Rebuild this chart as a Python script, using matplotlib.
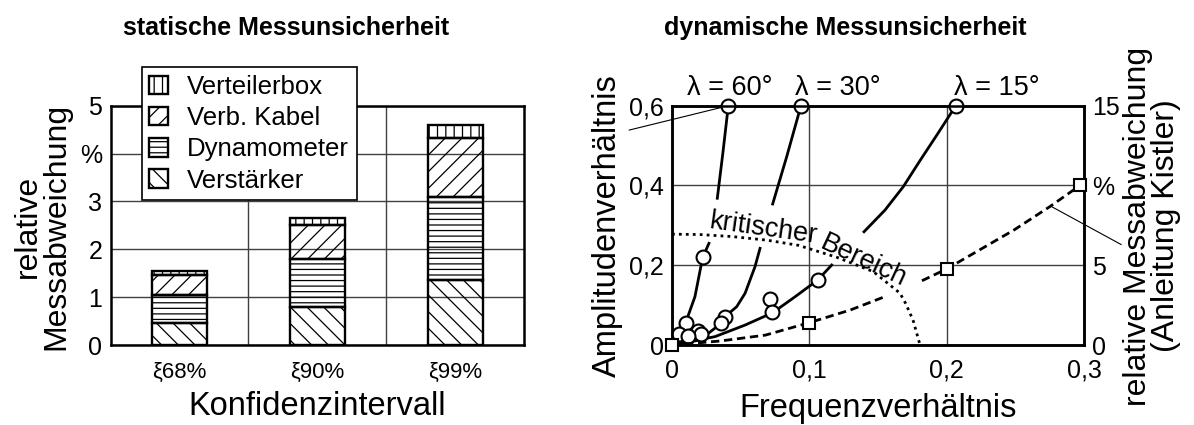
import numpy as np
import matplotlib.pyplot as plt

plt.rcParams['font.family'] = ['Liberation Sans', 'DejaVu Sans']
plt.rcParams['hatch.linewidth'] = 0.9

# statische Messunsicherheit, Anteile je Konfidenzintervall in %
intervalle = ['ξ68%', 'ξ90%', 'ξ99%']
verstaerker = [0.45, 0.79, 1.36]
dynamometer = [0.59, 1.01, 1.74]
kabel = [0.42, 0.71, 1.23]
verteilerbox = [0.09, 0.15, 0.27]

# dynamische Messunsicherheit: Kurven (oberer / unterer Ast) je Winkel
lam60_oben_f = [0.041, 0.037, 0.033]
lam60_oben_a = [0.6, 0.48, 0.368]
lam60_unten_f = [0.0269, 0.0223, 0.0167, 0.00995, 0.005, 0.0]
lam60_unten_a = [0.255, 0.219, 0.121, 0.056, 0.025, 0.0]
lam30_oben_f = [0.0939, 0.0835, 0.0733]
lam30_oben_a = [0.6, 0.472, 0.3536]
lam30_unten_f = [0.0641, 0.0604, 0.0532, 0.0471, 0.0391, 0.0357, 0.0204, 0.0]
lam30_unten_a = [0.2424, 0.196, 0.1296, 0.096, 0.0727, 0.0544, 0.0125, 0.0]
lam15_oben_f = [0.2066, 0.1935, 0.1805, 0.1684, 0.155, 0.1398]
lam15_oben_a = [0.6, 0.53, 0.462, 0.397, 0.338, 0.284]
lam15_unten_f = [0.1163, 0.1061, 0.0896, 0.0733, 0.0532, 0.0313, 0.0]
lam15_unten_a = [0.2006, 0.163, 0.121, 0.081, 0.050, 0.021, 0.0]

# Messpunkte
lam60_f = [0.041, 0.0223, 0.00995, 0.0051]
lam60_a = [0.6, 0.22, 0.056, 0.028]
lam30_f = [0.0939, 0.0386, 0.0355, 0.0192, 0.0211]
lam30_a = [0.6, 0.071, 0.056, 0.035, 0.028]
lam15_f = [0.2066, 0.1061, 0.0714, 0.0731, 0.0114]
lam15_a = [0.6, 0.163, 0.115, 0.082, 0.023]

# Anleitung Kistler, relative Messabweichung in %
kistler_f = [0.0, 0.1, 0.2, 0.297]
kistler_p = [0.0, 1.4, 4.77, 10.0]
kistler1_f = [0.0, 0.035, 0.068, 0.1, 0.13, 0.154]
kistler1_p = [0.0, 0.25, 0.62, 1.4, 2.2, 3.0]
kistler2_f = [0.182, 0.2, 0.249, 0.275, 0.297]
kistler2_p = [4.03, 4.77, 7.21, 8.67, 10.0]

# Grenze kritischer Bereich
kritisch_f = [0.0, 0.0204, 0.0435, 0.069, 0.092, 0.12, 0.1466, 0.166, 0.17, 0.1755, 0.1806]
kritisch_a = [0.278, 0.277, 0.272, 0.263, 0.25, 0.22, 0.184, 0.13, 0.105, 0.0625, 0.0]

fig = plt.figure(figsize=(11.94, 4.25), dpi=100)
ax1 = fig.add_axes([0.0927, 0.1882, 0.3461, 0.563])
ax2 = fig.add_axes([0.5628, 0.1882, 0.3451, 0.563])

fig.text(0.2395, 0.934, 'statische Messunsicherheit', ha='center', va='center',
         fontsize=18, fontweight='bold')
fig.text(0.7077, 0.934, 'dynamische Messunsicherheit', ha='center', va='center',
         fontsize=18, fontweight='bold')

# --- gestapelte Balken ---
x = np.arange(len(intervalle))
bottom = np.zeros(len(intervalle))
for vals, hatch, label in [(verstaerker, '\\\\', 'Verstärker'),
                           (dynamometer, '---', 'Dynamometer'),
                           (kabel, '//', 'Verb. Kabel'),
                           (verteilerbox, '||', 'Verteilerbox')]:
    ax1.bar(x, vals, 0.4, bottom=bottom, facecolor='none', edgecolor='black',
            linewidth=1.7, hatch=hatch, label=label, zorder=3)
    bottom += np.array(vals)

ax1.set_xlim(-0.5, 2.5)
ax1.set_ylim(0, 5)
ax1.set_yticks(range(6))
ax1.set_yticklabels(['0', '1', '2', '3', '%', '5'], fontsize=18)
ax1.set_xticks(x)
ax1.set_xticklabels(intervalle, fontsize=16)
ax1.set_xticks([0.5, 1.5], minor=True)
ax1.yaxis.grid(True, color='#404040', lw=1.0)
ax1.xaxis.grid(True, which='minor', color='#404040', lw=1.0)
ax1.tick_params(which='both', length=0)
ax1.tick_params(axis='y', pad=6)
ax1.tick_params(axis='x', pad=12)
ax1.set_xlabel('Konfidenzintervall', fontsize=23.5, labelpad=6)
fig.text(42 / 1194, 1 - 226 / 425, 'relative\nMessabweichung', rotation=90,
         ha='center', va='center', multialignment='center', fontsize=23,
         linespacing=0.92)

h, l = ax1.get_legend_handles_labels()
leg = ax1.legend(h[::-1], l[::-1], loc='upper left', bbox_to_anchor=(0.1187, 0.8416),
                 bbox_transform=fig.transFigure, fontsize=18.5, fancybox=False,
                 framealpha=1, edgecolor='black', borderaxespad=0, borderpad=0.3,
                 handlelength=0.72, handleheight=0.72, handletextpad=0.75,
                 labelspacing=0.28)
leg.get_frame().set_linewidth(1.2)

# --- Amplitudenverhaeltnis ---
ax2.set_xlim(0, 0.3)
ax2.set_ylim(0, 0.6)
ax2.set_xticks([0, 0.1, 0.2, 0.3])
ax2.set_xticklabels(['0', '0,1', '0,2', '0,3'], fontsize=18)
ax2.set_yticks([0, 0.2, 0.4, 0.6])
ax2.set_yticklabels(['0', '0,2', '0,4', '0,6'], fontsize=18)
ax2.grid(True, color='#404040', lw=1.0)
ax2.tick_params(length=0)
ax2.tick_params(axis='y', pad=6)
ax2.tick_params(axis='x', pad=10)
ax2.set_xlabel('Frequenzverhältnis', fontsize=23.5, labelpad=7)
ax2.set_ylabel('Amplitudenverhältnis', fontsize=23.5, labelpad=4)

kurve = dict(color='black', lw=2, clip_on=False, zorder=3)
for f, a in [(lam60_oben_f, lam60_oben_a), (lam60_unten_f, lam60_unten_a),
             (lam30_oben_f, lam30_oben_a), (lam30_unten_f, lam30_unten_a),
             (lam15_oben_f, lam15_oben_a), (lam15_unten_f, lam15_unten_a)]:
    ax2.plot(f, a, **kurve)
for f, a in [(lam60_f, lam60_a), (lam30_f, lam30_a), (lam15_f, lam15_a)]:
    ax2.plot(f, a, 'o', ms=10, mfc='white', mec='black', mew=1.5,
             clip_on=False, zorder=5)

ax2.plot(kritisch_f, kritisch_a, color='black', lw=2, ls=(0, (1, 1.5)), zorder=3)
ax2.text(0.0659, 0.2738, 'kritischer', rotation=-8, rotation_mode='anchor',
         ha='center', va='baseline', fontsize=19.5)
ax2.text(0.1375, 0.1943, 'Bereich', rotation=-25, rotation_mode='anchor',
         ha='center', va='baseline', fontsize=19.5)

for f, lab in [(0.0422, 'λ = 60°'), (0.1209, 'λ = 30°'), (0.2367, 'λ = 15°')]:
    ax2.text(f, 0.6445, lab, ha='center', va='center', fontsize=19.5)

# Zuordnungsstriche zu den Achsen
ax2.plot([0.041, -0.0311], [0.6, 0.539], color='black', lw=0.8, clip_on=False)
ax2.plot([0.2765, 0.327], [0.3468, 0.252], color='black', lw=0.8, clip_on=False)

ax3 = ax2.twinx()
ax3.set_ylim(0, 15)
ax3.set_yticks([0, 5, 10, 15])
ax3.set_yticklabels(['0', '5', '%', '15'], fontsize=18)
ax3.tick_params(length=0, pad=6)
for f, p in [(kistler1_f, kistler1_p), (kistler2_f, kistler2_p)]:
    ax3.plot(f, p, color='black', lw=2, ls=(0, (3, 1.7)), zorder=3)
ax3.plot(kistler_f, kistler_p, 's', ms=9, mfc='white', mec='black', mew=1.5,
         clip_on=False, zorder=5)
fig.text(1152 / 1194, 1 - 226 / 425, 'relative Messabweichung\n(Anleitung Kistler)',
         rotation=90, ha='center', va='center', multialignment='center',
         fontsize=23, linespacing=0.92)

for ax in (ax1, ax2, ax3):
    for s in ax.spines.values():
        s.set_linewidth(1.8)

fig.savefig('out.png', dpi=100)
